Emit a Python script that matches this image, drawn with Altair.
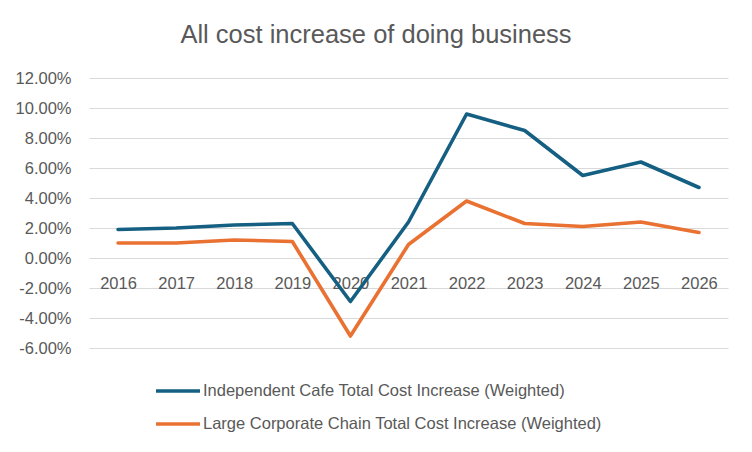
import altair as alt
import pandas as pd

years = ["2016", "2017", "2018", "2019", "2020", "2021", "2022", "2023", "2024", "2025", "2026"]
independent = [0.019, 0.020, 0.022, 0.023, -0.029, 0.024, 0.096, 0.085, 0.055, 0.064, 0.047]
chain = [0.010, 0.010, 0.012, 0.011, -0.052, 0.009, 0.038, 0.023, 0.021, 0.024, 0.017]
series = ["Independent Cafe Total Cost Increase (Weighted)",
          "Large Corporate Chain Total Cost Increase (Weighted)"]
colors = ["#156082", "#E97132"]
y_ticks = [-0.06, -0.04, -0.02, 0.0, 0.02, 0.04, 0.06, 0.08, 0.10, 0.12]

rows = []
for s, vals in zip(series, [independent, chain]):
    for yr, v in zip(years, vals):
        rows.append({"year": yr, "value": v, "series": s})
df = pd.DataFrame(rows)

FONT = "Liberation Sans"
TXT = "#595959"

chart = alt.Chart(df).mark_line(
    strokeWidth=3.6, strokeCap="round", strokeJoin="round"
).encode(
    x=alt.X("year:O", sort=years,
            scale=alt.Scale(type="point", padding=0.5),
            axis=alt.Axis(title=None, orient="bottom", offset=-90, domain=False,
                          ticks=False, grid=False, labelAngle=0,
                          labelBaseline="alphabetic", labelPadding=30,
                          labelFont=FONT, labelFontSize=16.5, labelColor=TXT)),
    y=alt.Y("value:Q",
            scale=alt.Scale(domain=[-0.06, 0.12], nice=False, zero=False),
            axis=alt.Axis(title=None, values=y_ticks, domain=False, ticks=False,
                          tickSize=0, labelPadding=18,
                          labelExpr="(datum.value < -0.0000001 ? '-' : '') + format(abs(datum.value), '.2%')",
                          labelFont=FONT, labelFontSize=16.5, labelColor=TXT,
                          grid=True, gridColor="#d9d9d9", gridWidth=1)),
    color=alt.Color("series:N",
                    scale=alt.Scale(domain=series, range=colors),
                    legend=alt.Legend(title=None, orient="none", legendX=65, legendY=289,
                                      direction="vertical", symbolType="stroke",
                                      symbolSize=1936, symbolStrokeWidth=3.6,
                                      rowPadding=-7, labelOffset=1, padding=0,
                                      labelFont=FONT, labelFontSize=16.5,
                                      labelColor=TXT, labelLimit=600)),
).properties(
    width=639,
    height=270,
    background="white",
    title=alt.TitleParams("All cost increase of doing business", anchor="middle",
                          dx=-32.5, font=FONT, fontSize=25.5, fontWeight="normal",
                          color=TXT, baseline="alphabetic", offset=2),
    autosize=alt.AutoSizeParams(type="none"),
    padding={"left": 81, "top": 70, "right": 16, "bottom": 96},
).configure_view(stroke=None)

chart.save("out.html", embed_options={"renderer": "svg", "actions": False})
